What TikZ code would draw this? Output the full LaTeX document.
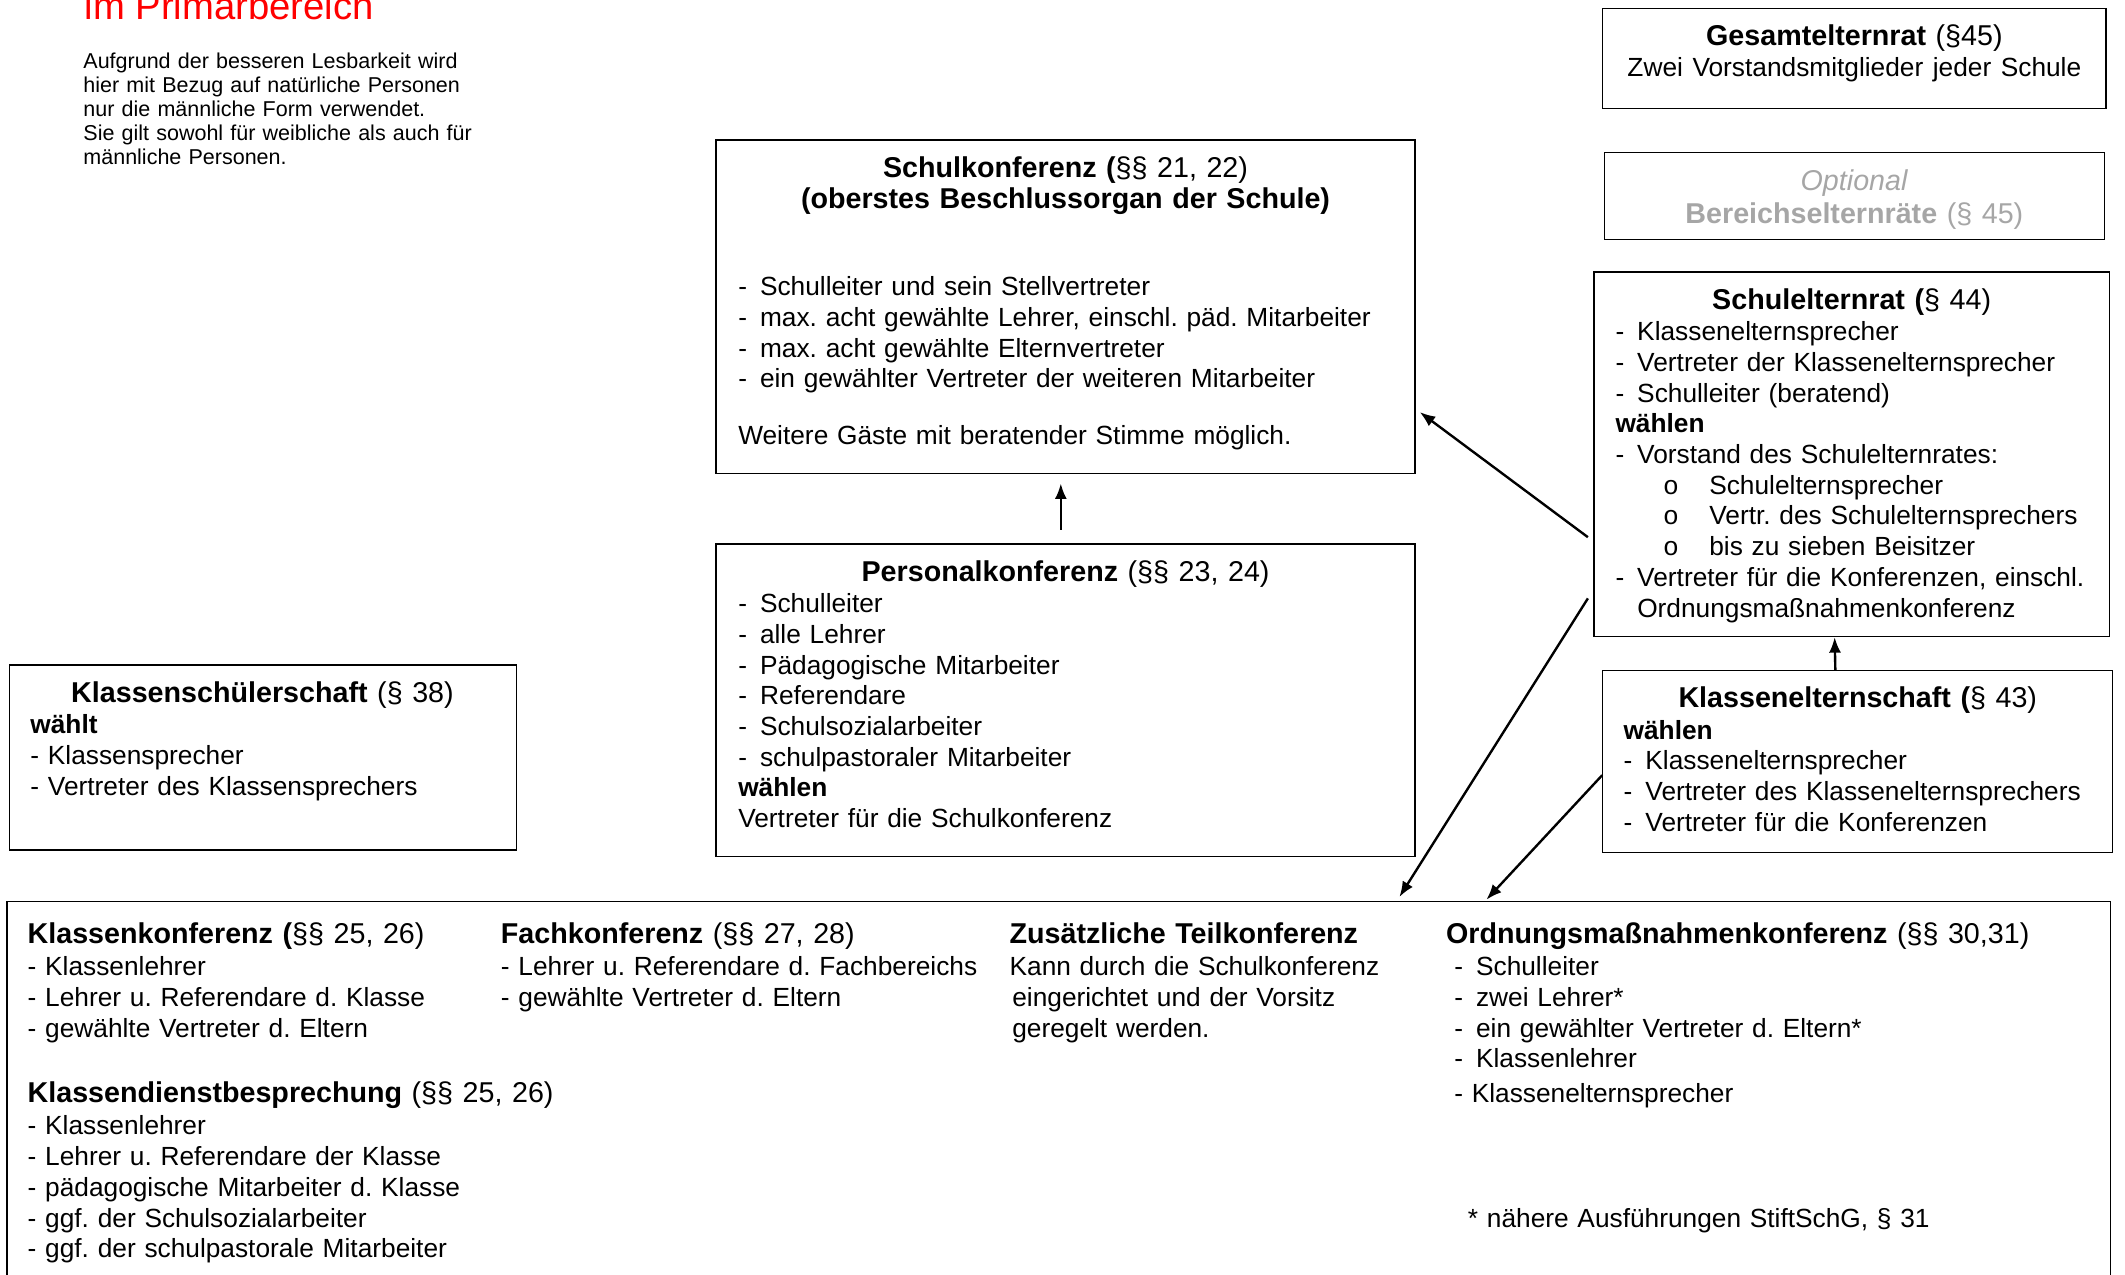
\documentclass[tikz,border=0pt]{standalone}
\usepackage{fontspec}
\setmainfont{Liberation Sans}
\newfontfamily\kreisfont{Liberation Mono}
\usetikzlibrary{arrows.meta}
\frenchspacing

\newcommand{\punkt}[1]{\makebox[0.32cm][l]{-}#1}
\newcommand{\kreis}[1]{\hspace*{0.7cm}\makebox[0.68cm][l]{\kreisfont o}#1}

\begin{document}
\begin{tikzpicture}[x=0.02cm,y=-0.02cm,>={Latex[length=6.5pt,width=5pt]},
			council box/.style={draw,line width=0.55pt,inner sep=0pt},
			head text/.style={anchor=base,text width=10cm,align=center,inner sep=0pt,
				font=\fontsize{12}{13}\selectfont},
			head left/.style={anchor=base west,text width=10cm,align=left,inner sep=0pt,
				font=\fontsize{12}{13}\selectfont},
			body text/.style={anchor=base west,text width=10cm,align=left,inner sep=0pt,
				font=\fontsize{11}{12.85}\selectfont},
			note text/.style={anchor=base west,text width=8cm,align=left,inner sep=0pt,
				font=\fontsize{9}{10.1}\selectfont},
			optional text/.style={text=black!35,font=\fontsize{12}{13.9}\selectfont},
			link/.style={->,line width=1pt}
			]
		\useasboundingbox (0,0) rectangle (1562.5,937);
		%\draw[step=100, color=gray] (0,0) grid (1562,937);
		\node [anchor=base west, inner sep=0pt, text=red, font=\fontsize{16}{19}\selectfont] (titel) at (62,14) {im Primarbereich};
		\node [note text] (hinweis) at (61,50) {Aufgrund der besseren Lesbarkeit wird\\hier mit Bezug auf natürliche Personen\\nur die männliche Form verwendet.\\Sie gilt sowohl für weibliche als auch für\\männliche Personen.};

		% Elternraete oben rechts
		\node [council box, minimum width=7.4cm, minimum height=1.48cm] (gesamt) at (1363.5,43) {};
		\node [head text] (gesamt-txt) at (1363.5,33.5) {\textbf{Gesamtelternrat} (§45)\\\fontsize{11}{12.85}\selectfont Zwei Vorstandsmitglieder jeder Schule};
		\node [council box, minimum width=7.36cm, minimum height=1.28cm] (optional) at (1363.5,144) {};
		\node [head text, optional text] (optional-txt) at (1363.5,140) {\textit{Optional}\\\textbf{Bereichselternräte} (§ 45)};

		% Schulkonferenz
		\node [council box, minimum width=10.28cm, minimum height=4.9cm] (skonf) at (783.5,225.5) {};
		\node [head text] (skonf-titel) at (783.5,130.5) {\textbf{Schulkonferenz (}§§ 21, 22)\\\textbf{(oberstes Beschlussorgan der Schule)}};
		\node [body text] (skonf-liste) at (542.5,217.5) {\punkt{Schulleiter und sein Stellvertreter}\\\punkt{max. acht gewählte Lehrer, einschl. päd. Mitarbeiter}\\\punkt{max. acht gewählte Elternvertreter}\\\punkt{ein gewählter Vertreter der weiteren Mitarbeiter}};
		\node [body text] (skonf-gaeste) at (542.5,326.5) {Weitere Gäste mit beratender Stimme möglich.};

		% Personalkonferenz
		\node [council box, minimum width=10.28cm, minimum height=4.6cm] (pkonf) at (783.5,515) {};
		\node [head text] (pkonf-titel) at (783.5,427.5) {\textbf{Personalkonferenz} (§§ 23, 24)};
		\node [body text] (pkonf-liste) at (542.5,450.5) {\punkt{Schulleiter}\\\punkt{alle Lehrer}\\\punkt{Pädagogische Mitarbeiter}\\\punkt{Referendare}\\\punkt{Schulsozialarbeiter}\\\punkt{schulpastoraler Mitarbeiter}\\\textbf{wählen}\\Vertreter für die Schulkonferenz};

		% Schulelternrat
		\node [council box, minimum width=7.58cm, minimum height=5.36cm] (serat) at (1361.5,334) {};
		\node [head text] (serat-titel) at (1361.5,227.5) {\textbf{Schulelternrat (}§ 44)};
		\node [body text] (serat-liste) at (1187.5,250.5) {\punkt{Klassenelternsprecher}\\\punkt{Vertreter der Klassenelternsprecher}\\\punkt{Schulleiter (beratend)}\\\textbf{wählen}\\\punkt{Vorstand des Schulelternrates:}\\\kreis{Schulelternsprecher}\\\kreis{Vertr. des Schulelternsprechers}\\\kreis{bis zu sieben Beisitzer}\\\punkt{Vertreter für die Konferenzen, einschl.}\\\hspace*{0.32cm}Ordnungsmaßnahmenkonferenz};

		% Klassenelternschaft
		\node [council box, minimum width=7.5cm, minimum height=2.68cm] (kelt) at (1366,560) {};
		\node [head text] (kelt-titel) at (1366,520.5) {\textbf{Klassenelternschaft (}§ 43)};
		\node [body text] (kelt-liste) at (1193.5,543.5) {\textbf{wählen}\\\punkt{Klassenelternsprecher}\\\punkt{Vertreter des Klassenelternsprechers}\\\punkt{Vertreter für die Konferenzen}};

		% Klassenschuelerschaft
		\node [council box, minimum width=7.46cm, minimum height=2.72cm] (ksch) at (193.5,557) {};
		\node [head text] (ksch-titel) at (193,516.5) {\textbf{Klassenschülerschaft} (§ 38)};
		\node [body text] (ksch-liste) at (22,539.5) {\textbf{wählt}\\- Klassensprecher\\- Vertreter des Klassensprechers};

		% Konferenzen unten
		\node [council box, minimum width=30.94cm, minimum height=6.74cm] (konf) at (778.5,831.5) {};
		\node [head left] (kkonf-titel) at (20,693.5) {\textbf{Klassenkonferenz (}§§ 25, 26)};
		\node [body text] (kkonf-liste) at (20,717.5) {- Klassenlehrer\\- Lehrer u. Referendare d. Klasse\\- gewählte Vertreter d. Eltern};
		\node [head left] (kdb-titel) at (20,810.5) {\textbf{Klassendienstbesprechung} (§§ 25, 26)};
		\node [body text] (kdb-liste) at (20,834.5) {- Klassenlehrer\\- Lehrer u. Referendare der Klasse\\- pädagogische Mitarbeiter d. Klasse\\- ggf. der Schulsozialarbeiter\\- ggf. der schulpastorale Mitarbeiter};
		\node [head left] (fkonf-titel) at (368,693.5) {\textbf{Fachkonferenz} (§§ 27, 28)};
		\node [body text] (fkonf-liste) at (368,717.5) {- Lehrer u. Referendare d. Fachbereichs\\- gewählte Vertreter d. Eltern};
		\node [head left] (tkonf-titel) at (742,693.5) {\textbf{Zusätzliche Teilkonferenz}};
		\node [body text] (tkonf-liste) at (742,717.5) {Kann durch die Schulkonferenz\\\hspace*{0.04cm}eingerichtet und der Vorsitz\\\hspace*{0.04cm}geregelt werden.};
		\node [head left] (okonf-titel) at (1063,693.5) {\textbf{Ordnungsmaßnahmenkonferenz} (§§ 30,31)};
		\node [body text] (okonf-liste) at (1069,717.5) {\punkt{Schulleiter}\\\punkt{zwei Lehrer*}\\\punkt{ein gewählter Vertreter d. Eltern*}\\\punkt{Klassenlehrer}\\[0.05cm]- Klassenelternsprecher};
		\node [body text] (okonf-fussnote) at (1079,902.5) {* nähere Ausführungen StiftSchG, § 31};

		% Pfeile
		\draw [link, shorten <=0.2cm, shorten >=0.14cm] ([xshift=-0.07cm]pkonf.north) -- ([xshift=-0.07cm]skonf.south);
		\draw [link] ([xshift=-0.08cm,yshift=-1.22cm]serat.west) -- ([xshift=0.06cm,yshift=-1.55cm]skonf.east);
		\draw [link] ([xshift=-0.08cm,yshift=-2.12cm]serat.west) -- ([xshift=5.01cm,yshift=0.06cm]konf.north);
		\draw [link] ([yshift=-0.2cm]kelt.west) -- ([xshift=6.29cm,yshift=0.02cm]konf.north);
		\draw [link] ([xshift=-0.33cm]kelt.north) -- ([xshift=-0.25cm]serat.south);
\end{tikzpicture}
\end{document}
